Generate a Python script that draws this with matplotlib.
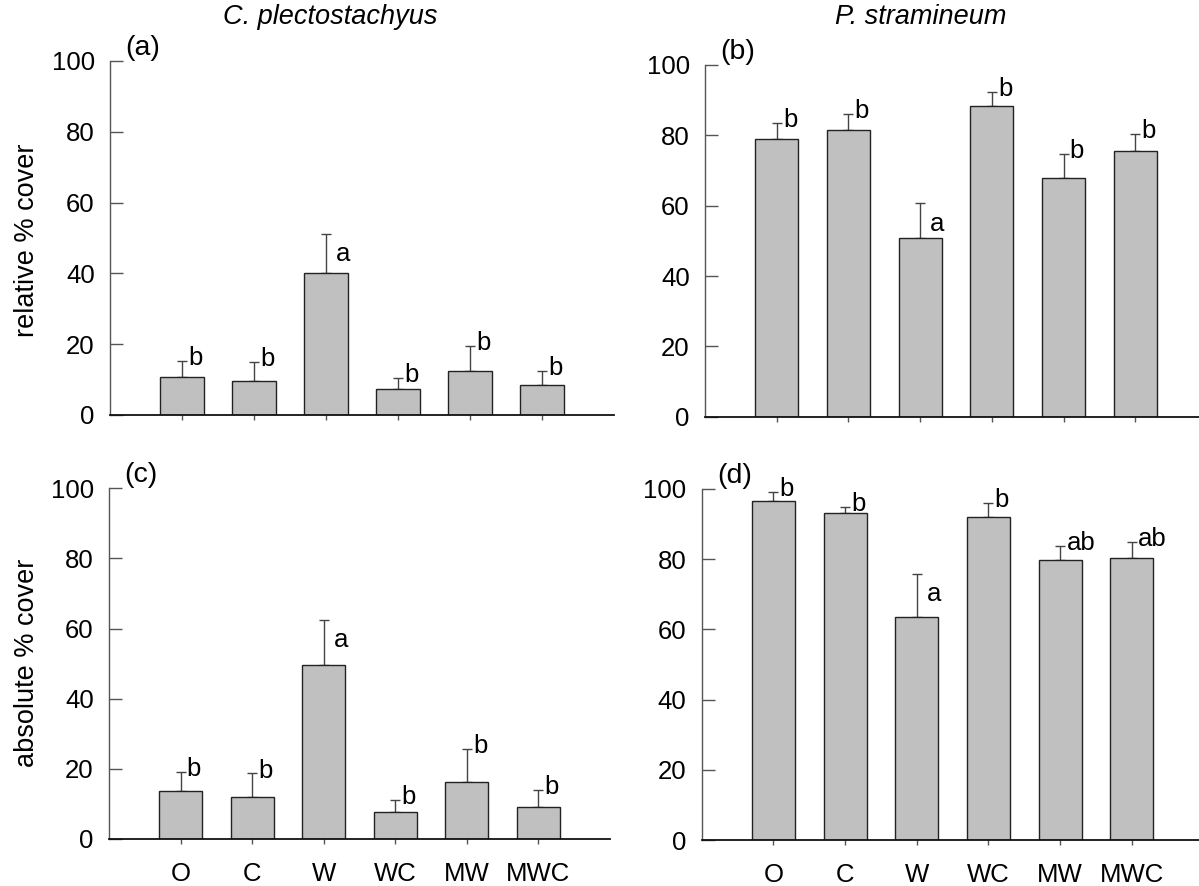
import numpy as np
import matplotlib
matplotlib.use("Agg")
import matplotlib.pyplot as plt

plt.rcParams['font.family'] = ['Liberation Sans', 'DejaVu Sans']

treatments = ['O', 'C', 'W', 'WC', 'MW', 'MWC']

# relative % cover
rel_cp = [10.8, 9.7, 40.1, 7.3, 12.3, 8.4]
rel_cp_se = [4.4, 5.2, 11.0, 3.2, 7.1, 4.0]
rel_cp_lab = ['b', 'b', 'a', 'b', 'b', 'b']

rel_ps = [79.0, 81.4, 50.7, 88.3, 68.0, 75.5]
rel_ps_se = [4.5, 4.8, 10.0, 4.1, 6.6, 4.8]
rel_ps_lab = ['b', 'b', 'a', 'b', 'b', 'b']

# absolute % cover
abs_cp = [13.8, 12.0, 49.5, 7.8, 16.2, 9.0]
abs_cp_se = [5.3, 6.7, 12.9, 3.3, 9.4, 5.1]
abs_cp_lab = ['b', 'b', 'a', 'b', 'b', 'b']

abs_ps = [96.5, 93.1, 63.4, 92.1, 79.7, 80.4]
abs_ps_se = [2.7, 1.9, 12.4, 4.0, 4.1, 4.6]
abs_ps_lab = ['b', 'b', 'a', 'b', 'ab', 'ab']

W, H = 1199, 886
fig = plt.figure(figsize=(W / 100, H / 100), dpi=100)


def px_axes(x0, y0, x1, y1):
    # pixel box (left, y of value 0, right, y of value 100)
    return fig.add_axes([x0 / W, 1 - y0 / H, (x1 - x0) / W, (y0 - y1) / H])


def panel(ax, vals, se, labs, tag, show_xlabels):
    x = np.arange(1, len(vals) + 1)
    ax.bar(x, vals, width=0.6, color='#c0c0c0', edgecolor='#222222',
           linewidth=1.0, zorder=2)
    ax.errorbar(x, vals, yerr=[np.zeros(len(se)), se], fmt='none',
                ecolor='#444444', elinewidth=1.0, capsize=3.6, capthick=1.0,
                zorder=1)
    for xi, v, s, lab in zip(x, vals, se, labs):
        if lab == 'a':
            ax.annotate(lab, (xi, v + s), xytext=(7, -6), textcoords='offset points',
                        ha='left', va='top', fontsize=18.5)
        else:
            ax.annotate(lab, (xi, v + s), xytext=(4.5, -3), textcoords='offset points',
                        ha='left', va='baseline', fontsize=18.5)
    ax.set_xlim(0, 7)
    ax.set_ylim(0, 100)
    ax.set_yticks([0, 20, 40, 60, 80, 100])
    ax.set_xticks(x)
    if show_xlabels:
        ax.set_xticklabels(treatments)
    else:
        ax.set_xticklabels([])
    ax.spines['top'].set_visible(False)
    ax.spines['right'].set_visible(False)
    ax.spines['left'].set_color('#555555')
    ax.spines['left'].set_linewidth(1.0)
    ax.spines['bottom'].set_color('#111111')
    ax.spines['bottom'].set_linewidth(1.3)
    ax.tick_params(axis='y', direction='in', length=9, width=1.0,
                   color='#555555', pad=11, labelsize=18.5)
    ax.tick_params(axis='x', direction='out', length=3.5, width=1.0,
                   color='#555555', pad=13, labelsize=18.5)
    ax.text(0.03, 1.0, tag, transform=ax.transAxes, ha='left', va='bottom',
            fontsize=20.5)


ax_a = px_axes(110, 415, 614, 61)
ax_b = px_axes(705, 416.7, 1207, 65)
ax_c = px_axes(109, 839, 610, 488.3)
ax_d = px_axes(701.7, 840, 1203.5, 489)

panel(ax_a, rel_cp, rel_cp_se, rel_cp_lab, '(a)', False)
panel(ax_b, rel_ps, rel_ps_se, rel_ps_lab, '(b)', False)
panel(ax_c, abs_cp, abs_cp_se, abs_cp_lab, '(c)', True)
panel(ax_d, abs_ps, abs_ps_se, abs_ps_lab, '(d)', True)

fig.text(330 / W, 1 - 17 / H, 'C. plectostachyus', style='italic',
         ha='center', va='center', fontsize=19.5)
fig.text(921 / W, 1 - 17 / H, 'P. stramineum', style='italic',
         ha='center', va='center', fontsize=19.5)
fig.text(27 / W, 1 - 240 / H, 'relative % cover', rotation=90,
         ha='center', va='center', fontsize=19.5)
fig.text(27 / W, 1 - 663 / H, 'absolute % cover', rotation=90,
         ha='center', va='center', fontsize=19.5)

fig.savefig('out.png', dpi=100)
